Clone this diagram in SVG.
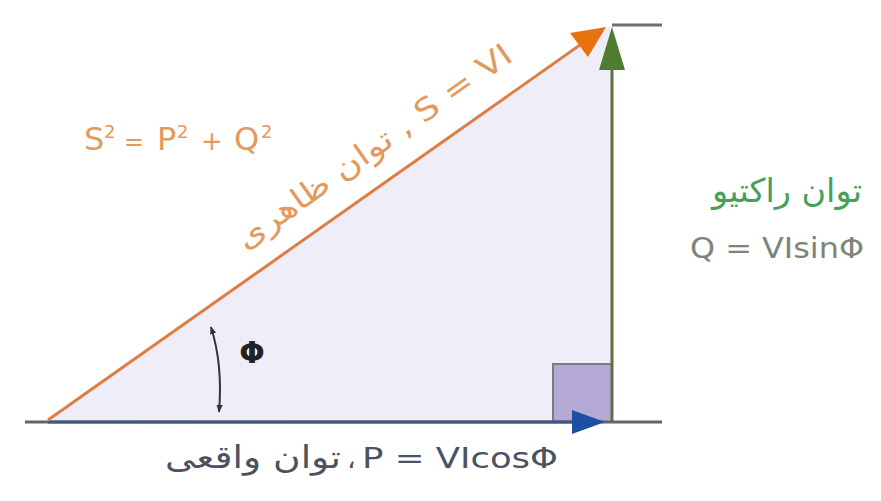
<svg xmlns="http://www.w3.org/2000/svg" width="881" height="501" viewBox="0 0 881 501">
<defs>
<style>
.t{font-family:"DejaVu Sans","Noto Sans",sans-serif;}
.or{fill:#e39a5c;}
.gr{fill:#45a05a;}
.gy{fill:#7f8478;}
.dk{fill:#4b5262;}
</style>
<marker id="ahK" viewBox="0 0 10 10" refX="9" refY="5" markerWidth="8" markerHeight="8" orient="auto-start-reverse" markerUnits="userSpaceOnUse"><path d="M0,1 L10,5 L0,9 z" fill="#333"/></marker>
</defs>
<rect width="881" height="501" fill="#ffffff"/>
<g id="triangle">
<polygon points="48,420 612,25 612,422" fill="#efedf7"/>
<rect x="553" y="364" width="59" height="58" fill="#b5aad6" stroke="#7b7a88" stroke-width="2"/>
</g>
<g id="connectors">
<line x1="25" y1="422" x2="662" y2="422" stroke="#5d6670" stroke-width="3"/>
<line x1="48" y1="422" x2="574" y2="422" stroke="#3d5a7e" stroke-width="3"/>
<path d="M572,422 L572,410 L605,422 L572,434 z" fill="#1f4fa0"/>
<line x1="612" y1="25" x2="662" y2="25" stroke="#6f6f6f" stroke-width="3"/>
<line x1="612" y1="422" x2="612" y2="66" stroke="#5f7048" stroke-width="3"/>
<path d="M612,27 L625,70 L599,70 z" fill="#4f7d2e"/>
<line x1="48" y1="420" x2="580" y2="45" stroke="#dc7f45" stroke-width="3"/>
<path d="M606,27 L588,57 L570,33 z" fill="#e8720f"/>
<path d="M211,327 Q223,365 219,412" fill="none" stroke="#333" stroke-width="2" marker-start="url(#ahK)" marker-end="url(#ahK)"/>
</g>
<g id="phi">
<text class="t" x="252" y="363" font-size="30" font-weight="bold" fill="#222" text-anchor="middle">Φ</text>
</g>
<g id="pythagoras">
<text class="t or" y="150" font-size="32"><tspan x="84">S</tspan><tspan x="104" dy="-12" font-size="18">2</tspan><tspan x="124" dy="12" font-size="24">=</tspan><tspan x="157">P</tspan><tspan x="177" dy="-12" font-size="18">2</tspan><tspan x="201" dy="12" font-size="26">+</tspan><tspan x="234">Q</tspan><tspan x="261" dy="-12" font-size="18">2</tspan></text>
</g>
<g id="apparent">
<text class="t or" transform="translate(380,155) rotate(-35.3)" font-size="31" text-anchor="middle" direction="ltr" textLength="330" lengthAdjust="spacingAndGlyphs">توان ظاهری , S = VI</text>
</g>
<g id="reactive">
<text class="t gr" x="862" y="202" font-size="33" text-anchor="end" textLength="150" lengthAdjust="spacingAndGlyphs">توان راکتیو</text>
<text class="t gy" x="690" y="258" font-size="29" textLength="174" lengthAdjust="spacingAndGlyphs">Q = VIsinΦ</text>
</g>
<g id="real">
<text class="t dk" x="165" y="468" font-size="31" textLength="176" lengthAdjust="spacingAndGlyphs">توان واقعی</text>
<text class="t dk" x="347" y="468" font-size="27">،</text>
<text class="t dk" x="362" y="468" font-size="28" textLength="196" lengthAdjust="spacingAndGlyphs">P = VIcosΦ</text>
</g>
</svg>
